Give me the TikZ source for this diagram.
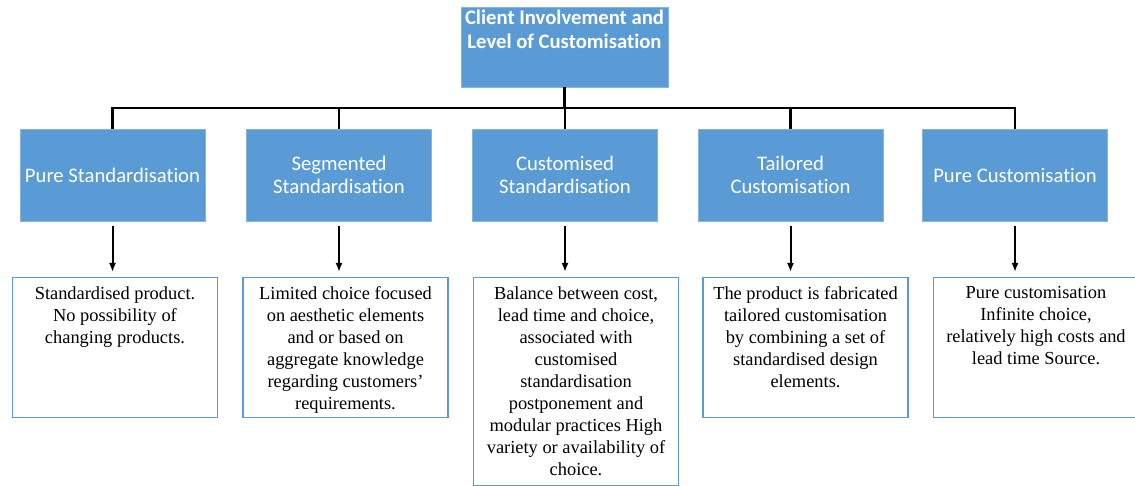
\documentclass[tikz,border=0pt]{standalone}
\usepackage{fontspec}
\setmainfont{Liberation Serif}
\newfontfamily\headfont[Ligatures={NoCommon,NoRare,NoContextual}]{Carlito}
\usepackage{tikz}
\usetikzlibrary{arrows.meta,positioning,calc}

\definecolor{headblue}{HTML}{5B9BD5}
\newcommand{\descfont}{\fontsize{18.4pt}{22pt}\selectfont}
\newcommand{\desctext}[2]{\parbox[c][#1][t]{205pt}{\centering\vspace*{9pt}\descfont #2}}

\tikzset{
  headbox/.style={fill=headblue,draw=headblue!75!white,line width=0.8pt,text=white,
    minimum width=185pt,minimum height=92pt,align=center,inner sep=0pt,
    font=\headfont\fontsize{20.7pt}{23.5pt}\selectfont},
  descbox/.style={draw=headblue,line width=1.4pt,fill=white,inner sep=0pt,anchor=north},
  tree/.style={line width=2.5pt},
  down/.style={line width=2pt,-{Latex[length=9pt,width=7pt]}}
}

\begin{document}
\begin{tikzpicture}[x=1pt,y=-1pt]
\useasboundingbox (0,0) rectangle (1135,486);
% top box
\node[headbox,minimum width=207pt,minimum height=80pt] (top) at (564.5,47)
  {\parbox[c][80pt][t]{207pt}{\centering\vspace*{3pt}\bfseries Client Involvement and\\Level of Customisation}};
% level boxes
\node[headbox] (pstd) at (112.5,175) {Pure Standardisation};
\node[headbox] (sstd) at (339,175) {Segmented\\Standardisation};
\node[headbox] (cstd) at (565,175) {Customised\\Standardisation};
\node[headbox] (tcus) at (790.5,175) {Tailored\\Customisation};
\node[headbox] (pcus) at (1015,175) {Pure Customisation};
% descriptions
\node[descbox] (dpstd) at (115,277) {\desctext{140pt}{Standardised product.\\No possibility of\\changing products.}};
\node[descbox] (dsstd) at (345.5,277) {\desctext{140pt}{Limited choice focused\\on aesthetic elements\\and or based on\\aggregate knowledge\\regarding customers'\\requirements.}};
\node[descbox] (dcstd) at (576,277) {\desctext{208pt}{Balance between cost,\\lead time and choice,\\associated with\\customised\\standardisation\\postponement and\\modular practices High\\variety or availability of\\choice.}};
\node[descbox] (dtcus) at (805.5,277) {\desctext{140pt}{The product is fabricated\\tailored customisation\\by combining a set of\\standardised design\\elements.}};
\node[descbox] (dpcus) at (1036,277) {\desctext{140pt}{Pure customisation\\Infinite choice,\\relatively high costs and\\lead time Source.}};
% tree
\coordinate (bar) at (0,108);
\draw[tree] (top.south) -- (top.south |- bar);
\draw[tree] (pstd.north) -- (pstd.north |- bar) -- (pcus.north |- bar) -- (pcus.north);
\draw[tree] (sstd.north) -- (sstd.north |- bar);
\draw[tree] (cstd.north) -- (cstd.north |- bar);
\draw[tree] (tcus.north) -- (tcus.north |- bar);
% arrows
\draw[down] ([yshift=-5pt]pstd.south) -- ([yshift=5pt]pstd.south |- dpstd.north);
\draw[down] ([yshift=-5pt]sstd.south) -- ([yshift=5pt]sstd.south |- dsstd.north);
\draw[down] ([yshift=-5pt]cstd.south) -- ([yshift=5pt]cstd.south |- dcstd.north);
\draw[down] ([yshift=-5pt]tcus.south) -- ([yshift=5pt]tcus.south |- dtcus.north);
\draw[down] ([yshift=-5pt]pcus.south) -- ([yshift=5pt]pcus.south |- dpcus.north);
\end{tikzpicture}
\end{document}
